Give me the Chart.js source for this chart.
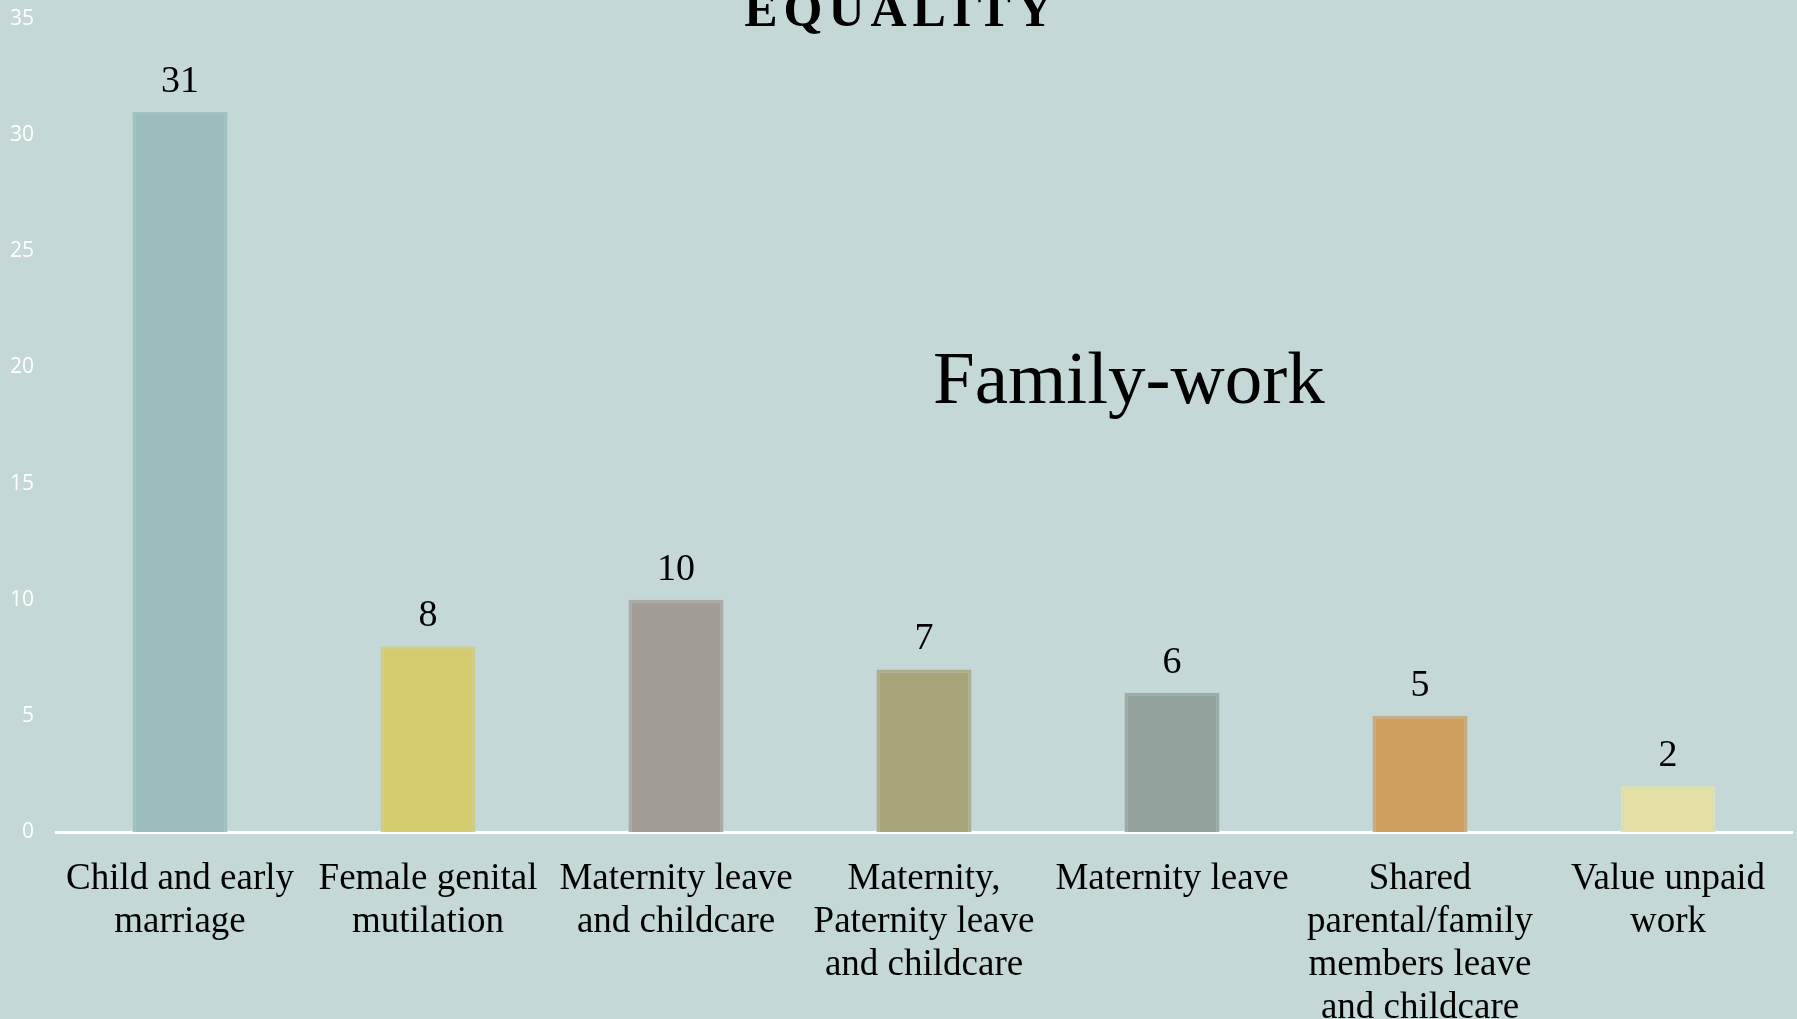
<!DOCTYPE html>
<html>
<head>
<meta charset="utf-8">
<script src="https://cdn.jsdelivr.net/npm/chart.js@4/dist/chart.umd.min.js"></script>
<style>
  html, body { margin: 0; padding: 0; background: #c4d8d7; overflow: hidden; }
  #wrap { width: 1797px; height: 1019px; position: relative; }
</style>
</head>
<body>
<div id="wrap"><canvas id="chart"></canvas></div>
<script>
// data
var categories = [
  ['Child and early', 'marriage'],
  ['Female genital', 'mutilation'],
  ['Maternity leave', 'and childcare'],
  ['Maternity,', 'Paternity leave', 'and childcare'],
  ['Maternity leave'],
  ['Shared', 'parental/family', 'members leave', 'and childcare'],
  ['Value unpaid', 'work']
];
var counts = [31, 8, 10, 7, 6, 5, 2];
var yTicks = [0, 5, 10, 15, 20, 25, 30, 35];

var barColors = ['#9bbdbe', '#d3cb6e', '#a19c95', '#a9a57b', '#93a29c', '#cc9f5e', '#e4e0a6'];
var edgeColors = ['#a0c0c1', '#cfcc86', '#a8aaa5', '#aeae8e', '#9aaaa6', '#c8aa7c', '#dedfb4'];

var serif = '"Liberation Serif", "Times New Roman", serif';

// title + annotation text + value labels
var textPlugin = {
    id: 'texts',
    afterDatasetsDraw: function (chart) {
        var ctx = chart.ctx;
        var meta = chart.getDatasetMeta(0);

        ctx.save();
        ctx.fillStyle = '#000';
        ctx.textAlign = 'center';
        ctx.textBaseline = 'alphabetic';

        ctx.font = '38px ' + serif;
        meta.data.forEach(function (bar, i) {
            ctx.fillText(String(counts[i]), bar.x, bar.y - 20);
        });

        ctx.font = 'bold 50px ' + serif;
        ctx.letterSpacing = '6px';
        ctx.fillText('EQUALITY', chart.width / 2 + 3, 26);
        ctx.letterSpacing = '0px';

        ctx.font = '75px ' + serif;
        ctx.textAlign = 'left';
        ctx.fillText('Family-work', 933, 403);
        ctx.restore();
    }
};

var ctx = document.getElementById('chart').getContext('2d');
var chart = new Chart(ctx, {
    type: 'bar',
    data: {
        labels: categories,
        datasets: [{
            data: counts,
            backgroundColor: barColors,
            borderColor: edgeColors,
            borderWidth: 3,
            borderSkipped: 'bottom',
            barPercentage: 0.383,
            categoryPercentage: 1
        }]
    },
    options: {
        responsive: true,
        maintainAspectRatio: false,
        animation: false,
        layout: { padding: { top: 0, right: 5, left: 0, bottom: 0 } },
        plugins: {
            legend: { display: false },
            tooltip: { enabled: false }
        },
        scales: {
            x: {
                grid: { display: false, drawTicks: false },
                border: { display: true, color: '#ffffff', width: 3 },
                ticks: {
                    color: '#000',
                    font: { family: serif, size: 37, lineHeight: 1.16 },
                    padding: 26,
                    maxRotation: 0,
                    autoSkip: false
                },
                afterFit: function (scale) {
                    scale.height = 187;
                    scale.paddingTop = 0;
                    scale.paddingBottom = 0;
                }
            },
            y: {
                min: 0,
                max: 35,
                grid: { display: false, drawTicks: false },
                border: { display: false },
                afterBuildTicks: function (scale) {
                    scale.ticks = yTicks.map(function (v) { return { value: v }; });
                },
                ticks: {
                    color: '#ffffff',
                    font: { family: '"Open Sans", Lato, sans-serif', size: 21 },
                    padding: 22
                },
                afterFit: function (scale) {
                    scale.width = 56;
                    scale.paddingTop = 19;
                    scale.paddingBottom = 0;
                }
            }
        }
    },
    plugins: [textPlugin]
});
</script>
</body>
</html>
